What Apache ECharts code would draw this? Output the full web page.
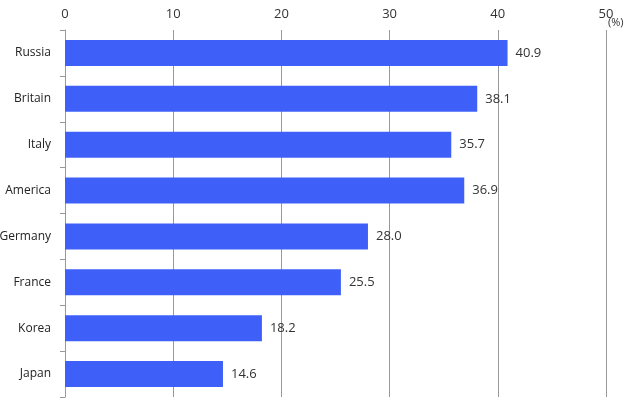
<!DOCTYPE html>
<html>
<head>
<meta charset="utf-8">
<script src="https://cdn.jsdelivr.net/npm/echarts@6/dist/echarts.min.js"></script>
<style>
  html, body { margin: 0; padding: 0; background: #fff; }
  #chart { width: 625px; height: 408px; }
</style>
</head>
<body>
<div id="chart"></div>
<script>
const countries = ['Russia', 'Britain', 'Italy', 'America', 'Germany', 'France', 'Korea', 'Japan'];
const shares = [40.9, 38.1, 35.7, 36.9, 28.0, 25.5, 18.2, 14.6];
const unitLabel = '(%)';

const chart = echarts.init(document.getElementById('chart'));

const option = {
  backgroundColor: '#fff',
  textStyle: { fontFamily: 'Open Sans' },
  grid: { left: 65, right: 19, top: 30, bottom: 11, containLabel: false, outerBoundsMode: 'none' },
  graphic: [{
    type: 'text',
    left: 608,
    top: 17,
    style: { text: unitLabel, fill: '#333', font: '11px "Open Sans"' }
  }],
  xAxis: {
    type: 'value',
    position: 'top',
    min: 0,
    max: 50,
    interval: 10,
    axisLine: { show: false },
    axisTick: { show: false },
    axisLabel: { color: '#333', fontSize: 13, margin: 9 },
    splitLine: { lineStyle: { color: '#999', width: 1 } }
  },
  yAxis: {
    type: 'category',
    data: countries,
    inverse: true,
    axisLine: { lineStyle: { color: '#999' } },
    axisTick: { show: true, length: 5, lineStyle: { color: '#999' } },
    axisLabel: { color: '#222', fontSize: 12, margin: 14 }
  },
  series: [{
    type: 'bar',
    data: shares,
    barWidth: 26,
    itemStyle: { color: '#3f60f8' },
    label: {
      show: true,
      position: 'right',
      distance: 8,
      color: '#333',
      fontSize: 13,
      formatter: (p) => p.value.toFixed(1)
    }
  }],
  animation: false
};

chart.setOption(option);
</script>
</body>
</html>
